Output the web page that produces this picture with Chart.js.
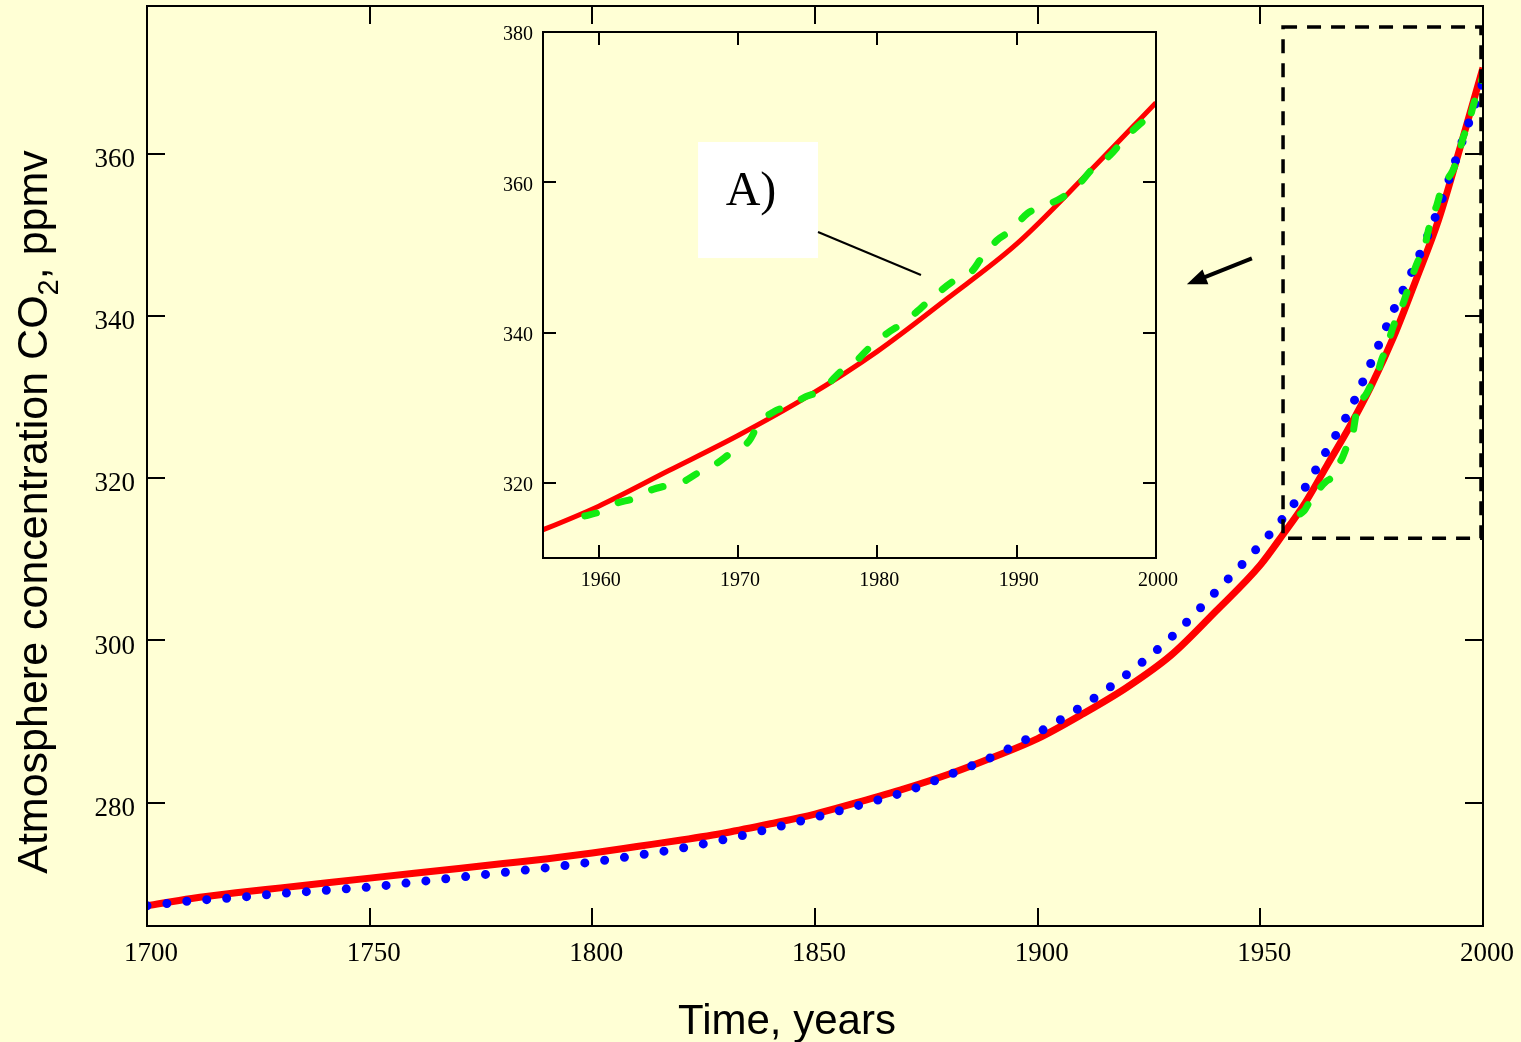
<!DOCTYPE html>
<html>
<head>
<meta charset="utf-8">
<title>Atmosphere CO2</title>
<script src="https://cdn.jsdelivr.net/npm/chart.js@4.4.1/dist/chart.umd.min.js"></script>
<style>
    html, body { margin: 0; padding: 0; background: #FFFFD5; }
    #wrap { position: relative; width: 1521px; height: 1042px; overflow: hidden; }
    #mainChart { position: absolute; left: 0; top: 0; }
    #insetChart { position: absolute; left: 480px; top: 0; }
</style>
</head>
<body>
<div id="wrap">
    <canvas id="mainChart" width="1521" height="1042" style="width:1521px;height:1042px"></canvas>
    <canvas id="insetChart" width="720" height="620" style="width:720px;height:620px"></canvas>
</div>
<script>
// model curve (red)
const yearsModel = [1700, 1710, 1720, 1730, 1740, 1750, 1760, 1770, 1780, 1790, 1800, 1810, 1820, 1830, 1840,
    1850, 1860, 1870, 1880, 1890, 1900, 1910, 1920, 1930, 1940, 1950, 1955, 1960, 1965, 1970, 1975, 1980,
    1985, 1990, 1995, 2000];
const co2Model = [267.3, 268.2, 268.9, 269.5, 270.1, 270.7, 271.3, 271.9, 272.5, 273.1, 273.8, 274.6, 275.4, 276.3, 277.4,
    278.6, 280.1, 281.7, 283.5, 285.6, 287.9, 290.9, 294.2, 298.2, 303.6, 309.3, 313.0, 316.9, 321.6, 326.3, 331.5, 337.5,
    344.5, 351.8, 361.0, 370.6];

// ice core reconstruction (blue dots)
const yearsIce = [1700, 1710, 1720, 1730, 1740, 1750, 1760, 1770, 1780, 1790, 1800, 1810, 1820, 1830, 1840,
    1850, 1860, 1870, 1880, 1890, 1900, 1910, 1920, 1930, 1940, 1950, 1955, 1960, 1965, 1970, 1975, 1980,
    1985, 1990, 1995, 2000];
const co2Ice = [267.3, 267.9, 268.3, 268.8, 269.2, 269.6, 270.2, 270.8, 271.4, 272.0, 272.7, 273.5, 274.4, 275.5, 276.8,
    278.2, 279.7, 281.3, 283.4, 285.7, 288.6, 291.9, 295.8, 300.4, 306.0, 311.8, 315.0, 318.8, 323.5, 328.3, 334.4, 340.8,
    346.6, 353.2, 361.0, 368.8];

// instrumental record (green dashes)
const yearsMeasured = [1959, 1960, 1961.3, 1962.5, 1963.7, 1964.8, 1966, 1967.2, 1968.4, 1969.5, 1970.8, 1971.5,
    1972.6, 1973.7, 1974.9, 1976, 1977.3, 1978.3, 1979.6, 1980.7, 1982.1, 1983.2, 1984.3, 1985.5, 1986.8, 1987.5,
    1988.6, 1989.6, 1990.8, 1991.9, 1993.2, 1994.4, 1995.5, 1996.7, 1997.8, 1998.7, 2000];
const co2Measured = [315.6, 316.1, 317.3, 317.9, 319.0, 319.6, 320.1, 321.4, 322.5, 324.0, 325.6, 327.9,
    329.5, 330.3, 331.5, 332.3, 334.7, 335.9, 338.3, 339.9, 341.6, 343.4, 345.2, 346.9, 348.2, 350.0,
    352.3, 353.6, 355.9, 356.8, 357.9, 359.6, 361.9, 363.6, 365.9, 367.5, 369.5];

// tick labels
const mainYearTicks = [1700, 1750, 1800, 1850, 1900, 1950, 2000];
const mainCo2Ticks = [280, 300, 320, 340, 360];
const insetYearTicks = [1960, 1970, 1980, 1990, 2000];
const insetCo2Ticks = [320, 340, 360, 380];

const SERIF = '"Liberation Serif", "Times New Roman", serif';
const SANS = '"Liberation Sans", Arial, sans-serif';
const RED = '#FF0000';
const BLUE = '#0000FF';
const GREEN = '#12EC12';

function points(xs, ys) {
    return xs.map((x, i) => ({ x: x, y: ys[i] }));
}

function fixedTicks(values) {
    return function (scale) {
        scale.ticks = values.map(v => ({ value: v }));
    };
}

function tickMarks(ctx, chart, xVals, yVals, len) {
    const a = chart.chartArea;
    const x = chart.scales.x, y = chart.scales.y;
    ctx.beginPath();
    xVals.forEach(v => {
        const px = Math.round(x.getPixelForValue(v));
        ctx.moveTo(px, a.bottom); ctx.lineTo(px, a.bottom - len);
        ctx.moveTo(px, a.top); ctx.lineTo(px, a.top + len);
    });
    yVals.forEach(v => {
        const py = Math.round(y.getPixelForValue(v));
        ctx.moveTo(a.left, py); ctx.lineTo(a.left + len, py);
        ctx.moveTo(a.right, py); ctx.lineTo(a.right - len, py);
    });
    ctx.stroke();
}

// frame, titles, zoom rectangle and arrow of the big chart
const mainDecor = {
    id: 'mainDecor',
    afterDraw(chart) {
        const { ctx, chartArea: a, scales: { x, y } } = chart;
        ctx.save();
        ctx.strokeStyle = '#000';
        ctx.lineWidth = 2;
        ctx.strokeRect(a.left, a.top, a.right - a.left, a.bottom - a.top);
        tickMarks(ctx, chart, mainYearTicks, mainCo2Ticks, 18);

        // dashed zoom window
        ctx.setLineDash([14, 10]);
        ctx.lineWidth = 3.5;
        const rx0 = x.getPixelForValue(1955.1), rx1 = x.getPixelForValue(1999.55);
        const ry0 = y.getPixelForValue(375.6), ry1 = y.getPixelForValue(312.6);
        ctx.strokeRect(rx0, ry0, rx1 - rx0, ry1 - ry0);
        ctx.setLineDash([]);

        // arrow towards the inset
        const tx = x.getPixelForValue(1948.1), ty = y.getPixelForValue(347.1);
        const hx = x.getPixelForValue(1933.5), hy = y.getPixelForValue(343.9);
        const ang = Math.atan2(hy - ty, hx - tx);
        ctx.lineWidth = 4;
        ctx.beginPath();
        ctx.moveTo(tx, ty);
        ctx.lineTo(hx - 14 * Math.cos(ang), hy - 14 * Math.sin(ang));
        ctx.stroke();
        ctx.fillStyle = '#000';
        ctx.beginPath();
        ctx.moveTo(hx, hy);
        ctx.lineTo(hx - 20 * Math.cos(ang) + 8 * Math.sin(ang), hy - 20 * Math.sin(ang) - 8 * Math.cos(ang));
        ctx.lineTo(hx - 20 * Math.cos(ang) - 8 * Math.sin(ang), hy - 20 * Math.sin(ang) + 8 * Math.cos(ang));
        ctx.closePath();
        ctx.fill();

        // axis titles
        ctx.fillStyle = '#000';
        ctx.textBaseline = 'alphabetic';
        ctx.textAlign = 'center';
        ctx.font = '42px ' + SANS;
        ctx.fillText('Time, years', 787, 1034);

        ctx.translate(47, 512);
        ctx.rotate(-Math.PI / 2);
        ctx.textAlign = 'left';
        const big = '43px ' + SANS, small = '29px ' + SANS;
        const p1 = 'Atmosphere concentration CO', p2 = '2', p3 = ', ppmv';
        ctx.font = big;
        const w1 = ctx.measureText(p1).width, w3 = ctx.measureText(p3).width;
        ctx.font = small;
        const w2 = ctx.measureText(p2).width;
        let cx = -(w1 + w2 + w3) / 2;
        ctx.font = big;
        ctx.fillText(p1, cx, 0);
        cx += w1;
        ctx.font = small;
        ctx.fillText(p2, cx, 11);
        cx += w2;
        ctx.font = big;
        ctx.fillText(p3, cx, 0);
        ctx.restore();
    }
};

// frame and "A)" label of the inset
const insetDecor = {
    id: 'insetDecor',
    afterDraw(chart) {
        const { ctx, chartArea: a, scales: { x, y } } = chart;
        ctx.save();
        ctx.strokeStyle = '#000';
        ctx.lineWidth = 2;
        ctx.strokeRect(a.left, a.top, a.right - a.left, a.bottom - a.top);
        tickMarks(ctx, chart, insetYearTicks, insetCo2Ticks, 13);

        const bx0 = x.getPixelForValue(1967.13), bx1 = x.getPixelForValue(1975.74);
        const by0 = y.getPixelForValue(365.36), by1 = y.getPixelForValue(349.92);
        ctx.fillStyle = '#FFFFFF';
        ctx.fillRect(bx0, by0, bx1 - bx0, by1 - by0);

        ctx.lineWidth = 2;
        ctx.beginPath();
        ctx.moveTo(bx1, y.getPixelForValue(353.38));
        ctx.lineTo(x.getPixelForValue(1983.13), y.getPixelForValue(347.66));
        ctx.stroke();

        ctx.fillStyle = '#000';
        ctx.font = '48px ' + SERIF;
        ctx.textAlign = 'center';
        ctx.textBaseline = 'alphabetic';
        ctx.fillText('A)', x.getPixelForValue(1970.93), y.getPixelForValue(356.98));
        ctx.restore();
    }
};

function axisOptions(min, max, ticks, fontSize, pad, offset, fitSize, horizontal) {
    return {
        type: 'linear',
        min: min,
        max: max,
        grid: { display: false, drawTicks: false },
        border: { display: false },
        afterBuildTicks: fixedTicks(ticks),
        afterFit: function (scale) {
            if (horizontal) {
                scale.height = fitSize;
                scale.paddingLeft = 0;
                scale.paddingRight = 0;
            } else {
                scale.width = fitSize;
                scale.paddingTop = 0;
                scale.paddingBottom = 0;
            }
        },
        ticks: {
            autoSkip: false,
            maxRotation: 0,
            color: '#000',
            padding: pad,
            labelOffset: offset,
            font: { family: SERIF, size: fontSize },
            callback: v => String(v)
        }
    };
}

const lineBase = { pointRadius: 0, fill: false, cubicInterpolationMode: 'monotone' };

new Chart(document.getElementById('mainChart'), {
    type: 'line',
    data: {
        datasets: [
            Object.assign({ data: points(yearsMeasured, co2Measured), borderColor: GREEN, borderWidth: 7,
                borderDash: [12, 22], borderCapStyle: 'round' }, lineBase),
            Object.assign({ data: points(yearsIce, co2Ice), borderColor: BLUE, borderWidth: 9,
                borderDash: [0, 20], borderCapStyle: 'round' }, lineBase),
            Object.assign({ data: points(yearsModel, co2Model), borderColor: RED, borderWidth: 7 }, lineBase)
        ]
    },
    options: {
        responsive: false,
        animation: false,
        events: [],
        layout: { padding: { top: 6, right: 38, left: 0, bottom: 0 } },
        plugins: { legend: { display: false }, tooltip: { enabled: false } },
        scales: {
            x: axisOptions(1700, 2000, mainYearTicks, 27, 12, 4, 116, true),
            y: axisOptions(264.8, 378.2, mainCo2Ticks, 27, 12, 6, 147, false)
        }
    },
    plugins: [mainDecor]
});

new Chart(document.getElementById('insetChart'), {
    type: 'line',
    data: {
        datasets: [
            Object.assign({ data: points(yearsMeasured, co2Measured), borderColor: GREEN, borderWidth: 7,
                borderDash: [12, 24], borderCapStyle: 'round' }, lineBase),
            Object.assign({ data: points(yearsModel, co2Model), borderColor: RED, borderWidth: 5 }, lineBase)
        ]
    },
    options: {
        responsive: false,
        animation: false,
        events: [],
        layout: { padding: { top: 32, right: 44, left: 0, bottom: 0 } },
        plugins: { legend: { display: false }, tooltip: { enabled: false } },
        scales: {
            x: axisOptions(1956, 2000, insetYearTicks, 20, 11, 2, 62, true),
            y: axisOptions(310, 380, insetCo2Ticks, 20, 10, 3, 63, false)
        }
    },
    plugins: [insetDecor]
});
</script>
</body>
</html>
